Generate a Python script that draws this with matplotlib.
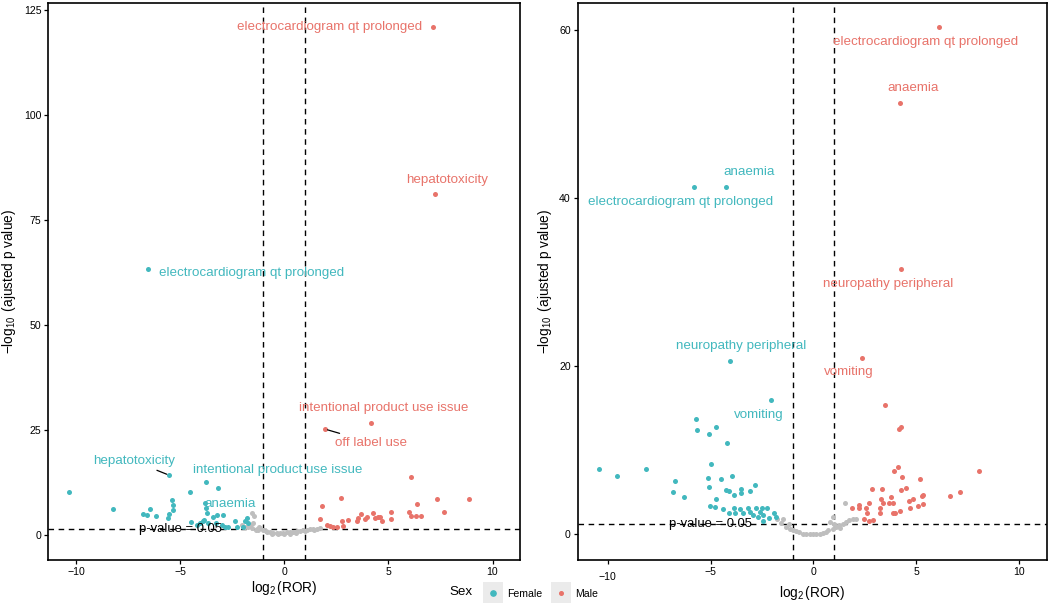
import matplotlib
matplotlib.use("Agg")
import matplotlib.pyplot as plt
from matplotlib.patches import Rectangle
from matplotlib.lines import Line2D
from matplotlib.transforms import ScaledTranslation

plt.rcParams['font.family'] = ['Liberation Sans', 'DejaVu Sans']
plt.rcParams['mathtext.fontset'] = 'custom'
plt.rcParams['mathtext.rm'] = 'Liberation Sans'
plt.rcParams['mathtext.it'] = 'Liberation Sans:italic'

FEMALE = '#42B8BE'
MALE = '#E8736A'
GREY = '#BEBEBE'

# ---------------- left panel data (log2 ROR, -log10 adj p) ----------------
l_fem_x = [-10.32, -8.24, -6.77, -6.61, -6.45, -6.14, -5.57, -5.52, -5.41, -5.36, -5.33,
           -4.53, -3.76, -3.18, -4.49, -6.53, -5.52,
           -4.18, -4.05, -3.92, -3.86, -3.81, -3.76, -3.73, -3.65, -3.41, -3.28, -3.22,
           -3.01, -2.93, -2.85, -2.69, -2.37, -2.29, -1.97, -1.81, -1.73, -1.89]
l_fem_y = [10.2, 6.1, 4.9, 4.8, 6.1, 4.5, 4.0, 5.0, 8.2, 7.1, 6.0,
           10.2, 12.5, 11.1, 3.0, 63.3, 14.2,
           2.4, 2.8, 3.2, 3.6, 7.5, 6.4, 5.2, 2.8, 4.2, 2.9, 4.8,
           2.4, 4.8, 2.0, 2.0, 3.2, 2.0, 2.0, 4.0, 2.8, 3.2]
l_male_x = [1.79, 1.71, 2.72, 2.03, 2.19, 2.35, 2.51, 2.75, 2.80, 3.07, 3.47, 3.55, 3.67,
            3.87, 3.95, 4.27, 4.35, 4.51, 4.59, 4.68, 5.12, 5.12, 6.00, 6.07, 6.08, 6.31,
            6.39, 6.55, 7.32, 7.67, 8.88, 7.12, 7.23, 4.16, 1.95]
l_male_y = [6.9, 3.9, 8.7, 2.4, 2.1, 2.0, 2.0, 3.2, 2.1, 3.6, 3.2, 4.0, 5.0,
            3.7, 4.2, 5.3, 4.0, 4.2, 4.2, 3.2, 5.5, 3.7, 5.5, 13.7, 4.4, 4.4,
            7.3, 4.6, 8.6, 5.5, 8.6, 120.9, 81.1, 26.7, 25.2]
l_grey_x = [-1.57, -1.45, -2.05, -1.89, -1.73, -1.57, -1.36, -1.25, -1.17, -1.01, -0.85,
            -0.69, -0.53, -0.36, -0.21, -0.05, 0.12, 0.28, 0.43, 0.60, 0.75, 0.91, 1.08,
            1.23, 1.39, 1.56, 1.71, -0.60, -0.30, 0.00, 0.30, 0.55, -0.90, -1.30, 1.00,
            1.45, -1.65, -1.50, -1.20]
l_grey_y = [5.2, 4.5, 2.4, 2.0, 1.8, 1.6, 1.2, 1.2, 1.6, 1.2, 0.8,
            0.6, 0.5, 0.5, 0.5, 0.5, 0.6, 0.8, 0.8, 1.0, 1.0, 1.2, 1.2,
            1.4, 1.4, 1.4, 1.6, 0.3, 0.2, 0.15, 0.3, 0.5, 0.9, 1.5, 0.9,
            1.2, 2.3, 2.8, 1.9]

# labels: (text, sex, point x, point y, label x, label y, segment)
l_labels = [
    ("electrocardiogram qt prolonged", "Male", 7.12, 120.9, 2.17, 120.9, False),
    ("hepatotoxicity", "Male", 7.23, 81.1, 7.83, 84.5, False),
    ("electrocardiogram qt prolonged", "Female", -6.53, 63.3, -1.58, 62.3, False),
    ("intentional product use issue", "Male", 4.16, 26.7, 4.78, 30.2, False),
    ("off label use", "Male", 1.95, 25.2, 4.17, 22.0, True),
    ("hepatotoxicity", "Female", -5.52, 14.2, -7.22, 17.6, True),
    ("intentional product use issue", "Female", -3.76, 12.5, -0.30, 15.5, False),
    ("anaemia", "Female", -3.81, 7.5, -2.58, 7.3, False),
]

# ---------------- right panel data ----------------
r_fem_x = [-10.43, -9.54, -8.15, -6.74, -6.84, -6.30, -5.69, -5.64, -5.08, -4.75, -4.19,
           -4.96, -5.13, -5.09, -4.51, -3.96, -4.75, -4.23, -4.11, -3.85, -3.53, -3.53,
           -3.10, -2.85, -5.03, -4.80, -4.40, -4.11, -3.87, -3.83, -3.56, -3.43, -3.20,
           -3.10, -2.94, -2.81, -2.70, -2.49, -2.46, -2.26, -2.18, -1.94, -1.84, -2.46,
           -2.60, -2.05, -5.82, -4.23, -4.06]
r_fem_y = [7.8, 7.0, 7.8, 6.4, 5.0, 4.5, 13.7, 12.4, 12.0, 12.8, 10.9,
           8.4, 6.7, 5.6, 6.6, 7.0, 4.2, 5.3, 5.2, 4.7, 5.4, 4.9,
           5.2, 5.9, 3.4, 3.3, 3.0, 2.6, 3.2, 2.6, 3.0, 2.5, 3.1,
           2.7, 2.3, 3.1, 2.1, 3.1, 2.3, 3.2, 2.0, 2.6, 2.1, 1.6,
           2.7, 16.0, 41.4, 41.4, 20.7]
r_male_x = [3.49, 4.17, 4.25, 3.93, 4.09, 4.30, 5.16, 8.02, 6.61, 7.11, 2.86, 3.31, 2.72,
            2.23, 1.88, 2.20, 2.55, 2.60, 3.28, 3.36, 3.77, 3.69, 3.85, 3.23, 3.23, 3.88,
            3.98, 4.22, 4.27, 4.50, 4.62, 4.82, 4.69, 5.06, 5.27, 5.33, 5.33, 2.47, 2.68,
            2.91, 6.08, 4.22, 4.25, 2.34]
r_male_y = [15.4, 12.6, 12.8, 7.6, 8.0, 6.9, 6.6, 7.6, 4.6, 5.0, 5.4, 5.4, 3.8,
            3.5, 3.1, 3.1, 3.2, 2.6, 4.2, 3.8, 4.5, 3.7, 3.8, 3.1, 2.5, 2.5,
            2.6, 2.8, 5.3, 5.5, 4.0, 4.2, 3.1, 3.4, 4.6, 4.7, 3.6, 1.9, 1.6,
            1.7, 60.4, 51.4, 31.6, 21.0]
r_grey_x = [-1.78, -1.49, -1.33, -1.16, -1.00, -0.68, -0.52, -0.19, 0.13, 0.45, 0.69,
            0.94, 1.10, 1.26, 1.42, 1.59, 1.75, 1.91, 2.07, 1.55, 0.94, 0.78, -1.20,
            -0.85, -0.35, 0.30, 0.60, 1.00, -1.60, 1.30, 0.00]
r_grey_y = [1.8, 1.9, 0.9, 0.7, 0.5, 0.3, 0.1, 0.0, 0.0, 0.2, 0.5,
            0.7, 0.9, 1.1, 1.3, 1.5, 1.7, 1.9, 1.8, 3.8, 2.1, 1.5, 1.2,
            0.4, 0.1, 0.1, 0.3, 1.2, 1.4, 0.8, 0.05]

r_labels = [
    ("electrocardiogram qt prolonged", "Male", 6.08, 60.4, 5.45, 58.6, False),
    ("anaemia", "Male", 4.22, 51.4, 4.83, 53.2, False),
    ("anaemia", "Female", -4.23, 41.4, -3.13, 43.1, False),
    ("electrocardiogram qt prolonged", "Female", -5.82, 41.4, -6.44, 39.6, False),
    ("neuropathy peripheral", "Male", 4.25, 31.6, 3.64, 29.8, False),
    ("neuropathy peripheral", "Female", -4.06, 20.7, -3.51, 22.4, False),
    ("vomiting", "Male", 2.34, 21.0, 1.73, 19.3, False),
    ("vomiting", "Female", -2.05, 16.0, -2.68, 14.2, False),
]

pcut = 1.301  # -log10(0.05)

fig = plt.figure(figsize=(10.52, 6.06), dpi=100)
ax1 = fig.add_axes([0.0459, 0.0764, 0.4484, 0.9191])
ax2 = fig.add_axes([0.5491, 0.0764, 0.4462, 0.9191])


def volcano(ax, fx, fy, mx, my, gx, gy, labels, xlim, ylim, yticks):
    ax.scatter(gx, gy, s=13, color=GREY, linewidths=0, zorder=2)
    ax.scatter(fx, fy, s=13, color=FEMALE, linewidths=0, zorder=3)
    ax.scatter(mx, my, s=13, color=MALE, linewidths=0, zorder=3)
    ax.axvline(-1, color='black', lw=1.0, ls=(0, (4, 3.3)), zorder=1)
    ax.axvline(1, color='black', lw=1.0, ls=(0, (4, 3.3)), zorder=1)
    ax.axhline(pcut, color='black', lw=1.0, ls=(0, (4, 3.3)), zorder=1)
    ax.text(-5, pcut, "p-value = 0.05", fontsize=9.4, ha='center', va='center', zorder=4)
    for txt, sex, px, py, tx, ty, seg in labels:
        col = FEMALE if sex == "Female" else MALE
        if seg:
            ax.annotate(txt, xy=(px, py), xytext=(tx, ty), color=col, fontsize=9.6,
                        ha='center', va='center', zorder=4,
                        arrowprops=dict(arrowstyle='-', color='black', lw=0.9,
                                        shrinkA=1, shrinkB=2))
        else:
            ax.text(tx, ty, txt, color=col, fontsize=9.6, ha='center', va='center', zorder=4)
    ax.set_xlim(*xlim)
    ax.set_ylim(*ylim)
    ax.set_xticks([-10, -5, 0, 5, 10])
    ax.set_xticklabels(['\u221210', '\u22125', '0', '5', '10'])
    ax.set_yticks(yticks)
    ax.tick_params(length=3, width=0.9, color='black', labelsize=7.6, pad=2)
    for s in ax.spines.values():
        s.set_linewidth(1.2)
        s.set_color('black')
    ax.set_xlabel(r'$\log_2$(ROR)', fontsize=9.8, labelpad=2)
    ax.set_ylabel(r'$-\log_{10}$ (ajusted p value)', fontsize=9.8, labelpad=4)


volcano(ax1, l_fem_x, l_fem_y, l_male_x, l_male_y, l_grey_x, l_grey_y, l_labels,
        (-11.33, 11.32), (-5.9, 126.7), [0, 25, 50, 75, 100, 125])
volcano(ax2, r_fem_x, r_fem_y, r_male_x, r_male_y, r_grey_x, r_grey_y, r_labels,
        (-11.46, 11.35), (-3.0, 63.3), [0, 20, 40, 60])

# the -10 tick label on the right panel sits a little lower
lab = ax2.get_xticklabels()[0]
lab.set_transform(lab.get_transform() + ScaledTranslation(0, -5 / 100, fig.dpi_scale_trans))

# legend drawn by hand, ggplot style (title on the left)
W, H = 1052, 606
fig.text(461 / W, 1 - 592 / H, "Sex", fontsize=9.6, ha='center', va='center')
for cx, col, name in [(493, FEMALE, "Female"), (561, MALE, "Male")]:
    fig.add_artist(Rectangle(((cx - 10) / W, 1 - 603 / H), 20 / W, 21 / H,
                             transform=fig.transFigure, facecolor='#EBEBEB',
                             edgecolor='none'))
    fig.add_artist(Line2D([cx / W], [1 - 593 / H], transform=fig.transFigure,
                          marker='o', markersize=3.8 if name == "Female" else 2.6,
                          color=col, linestyle='none'))
    fig.text((cx + 14) / W, 1 - 594 / H, name, fontsize=7.6, ha='left', va='center')

fig.savefig("out.png", dpi=100)
